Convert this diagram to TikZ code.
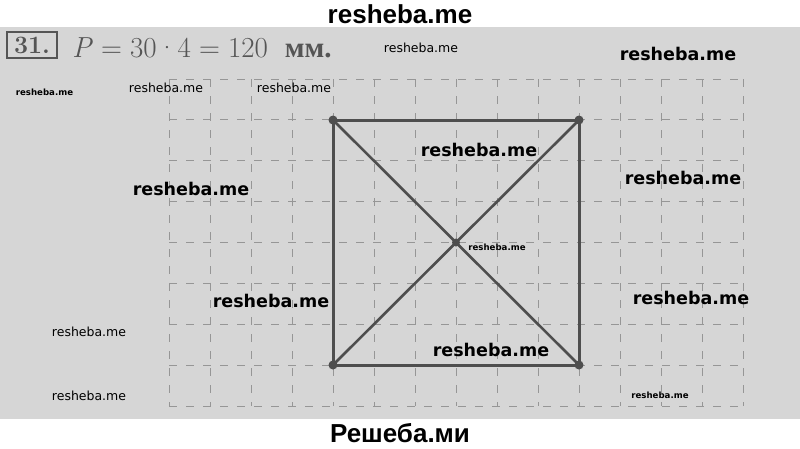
\documentclass[tikz,border=0pt]{standalone}
\usepackage{fontspec}
\newfontfamily\wmfont{DejaVu Sans}
\newfontfamily\headfont{Liberation Sans}
\newfontfamily\cyrserif{Liberation Serif}
\usetikzlibrary{positioning}
\definecolor{paper}{RGB}{214,214,214}
\definecolor{gridgray}{RGB}{150,150,150}
\definecolor{inkgray}{RGB}{78,78,78}
\definecolor{printgray}{RGB}{85,85,85}
\newcommand{\eqsign}{\hspace{0.28em}=\hspace{0.28em}}

\begin{document}
\begin{tikzpicture}[
    x=1pt, y=-1pt,
    gridline/.style={draw=gridgray, line width=1pt, dash pattern=on 8pt off 9pt},
    side/.style={draw=inkgray, line width=3pt, line cap=round},
    corner/.style={circle, fill=inkgray, inner sep=0pt, minimum size=9pt},
    numbox/.style={rectangle, draw=printgray, line width=1.6pt, minimum width=50pt, minimum height=26pt, inner sep=0pt, text=printgray, font=\fontsize{25}{28}\selectfont\bfseries},
    formula/.style={anchor=base west, inner sep=0pt, text=printgray, font=\fontsize{29}{32}\selectfont},
    banner/.style={inner sep=0pt, font=\headfont\bfseries\fontsize{26}{30}\selectfont},
    wmbig/.style={inner sep=0pt, font=\wmfont\bfseries\fontsize{17.5}{20}\selectfont},
    wmsmall/.style={inner sep=0pt, font=\wmfont\bfseries\fontsize{8.6}{10}\selectfont},
    wmthin/.style={inner sep=0pt, font=\wmfont\fontsize{12.5}{14}\selectfont}
]
    % page and scanned sheet
    \useasboundingbox (0,0) rectangle (800,448);
    \fill[white] (0,0) rectangle (800,448);
    \fill[paper] (0,27) rectangle (800,419);

    % squared paper
    \foreach \i in {0,...,14}
        \draw[gridline] (169+41*\i,79) -- (169+41*\i,406);
    \foreach \j in {0,...,8}
        \draw[gridline] (169,79+40.875*\j) -- (743,79+40.875*\j);

    % task number and answer
    \node[numbox] (num) at (32,45) {31.};
    \node[formula] (answer) at (72,57) {\textit{P}\eqsign 30·4\eqsign 120\; {\cyrserif\bfseries мм.}};

    % square with diagonals
    \node[corner] (tl) at (333,120) {};
    \node[corner] (tr) at (579,120) {};
    \node[corner] (br) at (579,365) {};
    \node[corner] (bl) at (333,365) {};
    \node[corner, minimum size=8pt] (mid) at (456,242.5) {};

    \draw[side] (tl.center) -- (tr.center) -- (br.center) -- (bl.center) -- cycle;
    \draw[side, line width=2.6pt] (tl.center) -- (mid.center) -- (br.center);
    \draw[side, line width=2.6pt] (tr.center) -- (mid.center) -- (bl.center);

    % watermarks
    \node[banner] (top) at (400,14) {resheba.me};
    \node[banner] (bottom) at (400,433) {Решеба.ми};
    \node[wmthin] (w1) at (421,48) {resheba.me};
    \node[wmbig] (w2) at (678,53.5) {resheba.me};
    \node[wmsmall] (w3) at (44.5,92) {resheba.me};
    \node[wmthin] (w4) at (166,88) {resheba.me};
    \node[wmthin] (w5) at (294,88) {resheba.me};
    \node[wmbig] (w6) at (479,150) {resheba.me};
    \node[wmbig] (w7) at (191,189) {resheba.me};
    \node[wmbig] (w8) at (683,177.5) {resheba.me};
    \node[wmsmall] (w9) at (497,247.5) {resheba.me};
    \node[wmbig] (w10) at (271,301) {resheba.me};
    \node[wmbig] (w11) at (691,297.5) {resheba.me};
    \node[wmthin] (w12) at (89,332) {resheba.me};
    \node[wmbig] (w13) at (491,349.5) {resheba.me};
    \node[wmthin] (w14) at (89,396) {resheba.me};
    \node[wmsmall] (w15) at (660,395) {resheba.me};
\end{tikzpicture}
\end{document}
